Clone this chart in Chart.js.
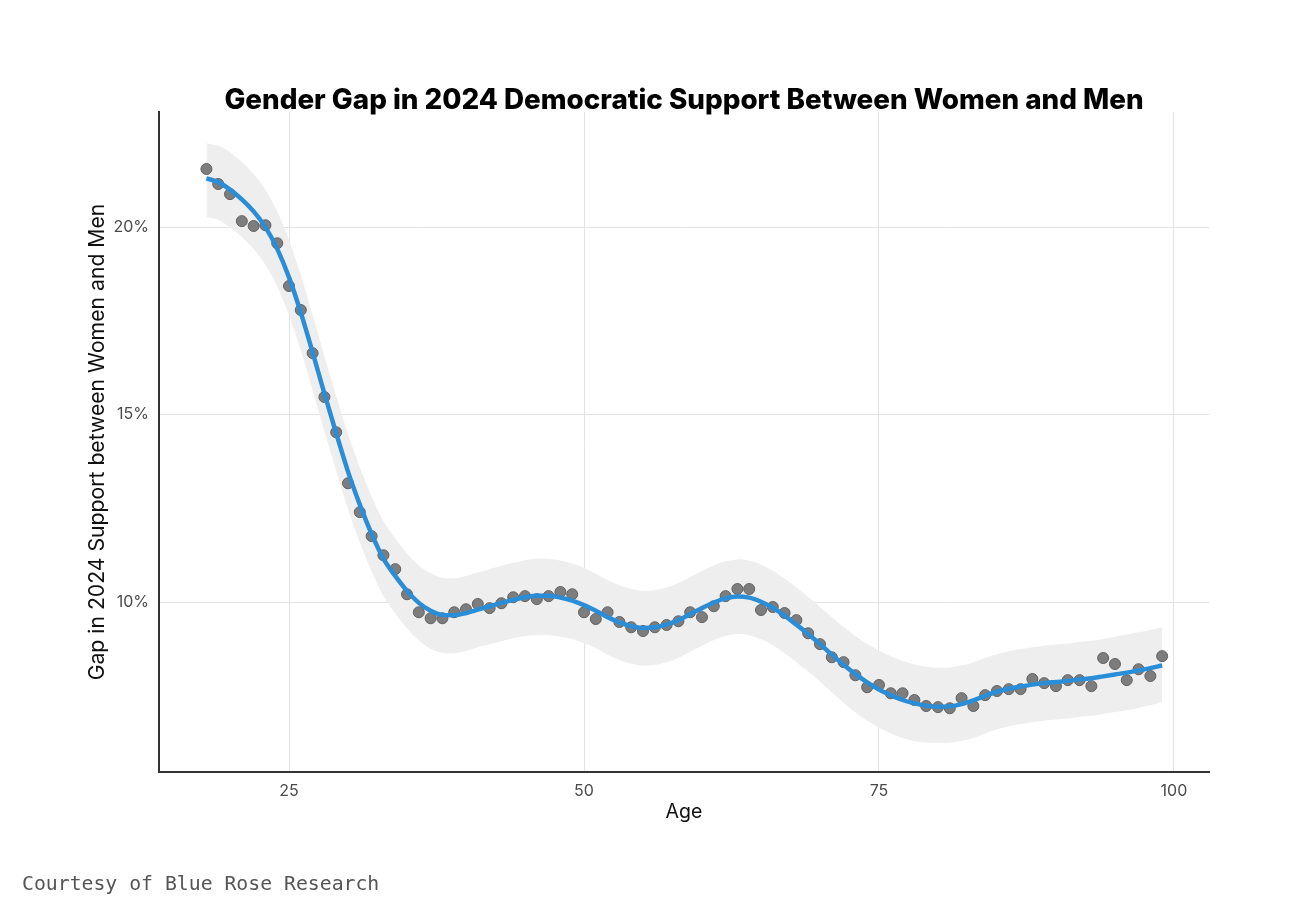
<!DOCTYPE html>
<html>
<head>
<meta charset="utf-8">
<script src="https://cdn.jsdelivr.net/npm/chart.js@4.4.1/dist/chart.umd.min.js"></script>
<style>
  html, body { margin: 0; padding: 0; background: #fff; }
  #wrap { position: relative; width: 1300px; height: 924px; }
  #nota {
    position: absolute; left: 22px; top: 872px;
    font-family: "DejaVu Sans Mono", "Liberation Mono", monospace;
    font-size: 19.8px; color: #555; white-space: nowrap;
  }
</style>
</head>
<body>
<div id="wrap">
  <canvas id="grafico" width="1300" height="924"></canvas>
  <div id="nota">Courtesy of Blue Rose Research</div>
</div>
<script>
// edades 18..99
const edades = [18, 19, 20, 21, 22, 23, 24, 25, 26, 27, 28, 29, 30, 31, 32, 33, 34, 35, 36, 37,
  38, 39, 40, 41, 42, 43, 44, 45, 46, 47, 48, 49, 50, 51, 52, 53, 54, 55, 56, 57,
  58, 59, 60, 61, 62, 63, 64, 65, 66, 67, 68, 69, 70, 71, 72, 73, 74, 75, 76, 77,
  78, 79, 80, 81, 82, 83, 84, 85, 86, 87, 88, 89, 90, 91, 92, 93, 94, 95, 96, 97,
  98, 99];

// brecha observada (%)
const brecha = [21.55, 21.15, 20.88, 20.16, 20.03, 20.05, 19.57, 18.43, 17.79, 16.64,
  15.47, 14.53, 13.17, 12.40, 11.76, 11.25, 10.88, 10.21, 9.73, 9.57,
  9.57, 9.73, 9.81, 9.95, 9.84, 9.97, 10.13, 10.16, 10.08, 10.16,
  10.27, 10.21, 9.73, 9.55, 9.73, 9.47, 9.33, 9.23, 9.33, 9.39,
  9.49, 9.73, 9.60, 9.89, 10.16, 10.35, 10.35, 9.79, 9.87, 9.71,
  9.52, 9.17, 8.88, 8.53, 8.40, 8.05, 7.73, 7.79, 7.57, 7.57,
  7.39, 7.23, 7.20, 7.17, 7.44, 7.23, 7.52, 7.63, 7.68, 7.68,
  7.95, 7.84, 7.76, 7.92, 7.92, 7.76, 8.51, 8.35, 7.92, 8.21,
  8.03, 8.56];

// curva suavizada
const ajuste = [21.30, 21.20, 21.00, 20.74, 20.42, 20.00, 19.42, 18.66, 17.72, 16.66,
  15.56, 14.50, 13.48, 12.60, 11.82, 11.16, 10.70, 10.30, 9.98, 9.77,
  9.66, 9.65, 9.71, 9.80, 9.89, 9.98, 10.06, 10.13, 10.17, 10.17,
  10.12, 10.04, 9.92, 9.77, 9.60, 9.46, 9.36, 9.31, 9.33, 9.40,
  9.52, 9.68, 9.84, 9.99, 10.10, 10.15, 10.12, 10.01, 9.85, 9.64,
  9.40, 9.15, 8.88, 8.60, 8.33, 8.08, 7.86, 7.67, 7.52, 7.39,
  7.30, 7.24, 7.21, 7.22, 7.28, 7.38, 7.50, 7.61, 7.69, 7.75,
  7.80, 7.84, 7.87, 7.90, 7.94, 7.97, 8.02, 8.07, 8.12, 8.18,
  8.24, 8.31];

// banda de confianza
const bandaAlta = [22.24, 22.17, 22.00, 21.74, 21.42, 21.00, 20.42, 19.66, 18.72, 17.66,
  16.56, 15.50, 14.48, 13.60, 12.82, 12.16, 11.70, 11.30, 10.98, 10.77,
  10.65, 10.64, 10.70, 10.79, 10.88, 10.97, 11.05, 11.12, 11.16, 11.16,
  11.11, 11.03, 10.91, 10.76, 10.59, 10.45, 10.35, 10.30, 10.32, 10.39,
  10.51, 10.67, 10.83, 10.98, 11.09, 11.14, 11.11, 11.00, 10.84, 10.63,
  10.39, 10.14, 9.87, 9.60, 9.34, 9.10, 8.89, 8.71, 8.56, 8.43,
  8.34, 8.28, 8.25, 8.26, 8.31, 8.40, 8.51, 8.61, 8.69, 8.75,
  8.80, 8.84, 8.87, 8.90, 8.94, 8.97, 9.02, 9.08, 9.14, 9.20,
  9.26, 9.33];

const bandaBaja = [20.27, 20.20, 20.00, 19.74, 19.42, 19.00, 18.42, 17.66, 16.72, 15.66,
  14.56, 13.50, 12.48, 11.60, 10.82, 10.16, 9.70, 9.30, 8.98, 8.76,
  8.65, 8.64, 8.70, 8.80, 8.88, 8.96, 9.04, 9.10, 9.12, 9.12,
  9.08, 9.02, 8.91, 8.77, 8.60, 8.46, 8.36, 8.31, 8.33, 8.40,
  8.52, 8.68, 8.84, 8.99, 9.10, 9.15, 9.12, 9.01, 8.85, 8.64,
  8.40, 8.15, 7.88, 7.60, 7.32, 7.06, 6.84, 6.66, 6.50, 6.38,
  6.30, 6.26, 6.25, 6.25, 6.30, 6.38, 6.50, 6.61, 6.69, 6.75,
  6.80, 6.84, 6.87, 6.90, 6.94, 6.97, 7.02, 7.07, 7.12, 7.18,
  7.25, 7.34];

const ticksX = [25, 50, 75, 100];
const ticksY = [10, 15, 20];

const pares = (ys) => edades.map((x, i) => ({ x: x, y: ys[i] }));

// titulo centrado sobre el area del grafico
const tituloPlugin = {
  id: 'tituloCentrado',
  afterDraw(chart) {
    const ctx = chart.ctx;
    const area = chart.chartArea;
    ctx.save();
    ctx.font = '800 27.8px Inter';
    ctx.fillStyle = '#000';
    ctx.textAlign = 'center';
    ctx.textBaseline = 'alphabetic';
    ctx.fillText('Gender Gap in 2024 Democratic Support Between Women and Men', (area.left + area.right) / 2, 109);
    ctx.restore();
  }
};

const canvas = document.getElementById('grafico');

new Chart(canvas, {
  type: 'scatter',
  data: {
    datasets: [
      {
        label: 'alta',
        type: 'line',
        data: pares(bandaAlta),
        borderWidth: 0,
        pointRadius: 0,
        backgroundColor: '#eeeeee',
        fill: '+1',
        tension: 0.3,
        order: 3
      },
      {
        label: 'baja',
        type: 'line',
        data: pares(bandaBaja),
        borderWidth: 0,
        pointRadius: 0,
        fill: false,
        tension: 0.3,
        order: 3
      },
      {
        label: 'puntos',
        data: pares(brecha),
        pointRadius: 5.5,
        pointBackgroundColor: '#7d7d7d',
        pointBorderColor: '#626262',
        pointBorderWidth: 1,
        order: 2
      },
      {
        label: 'ajuste',
        type: 'line',
        data: pares(ajuste),
        borderColor: '#2a8dd8',
        borderWidth: 4.5,
        pointRadius: 0,
        fill: false,
        cubicInterpolationMode: 'monotone',
        order: 1
      }
    ]
  },
  options: {
    responsive: false,
    animation: false,
    layout: {
      padding: { left: 70, right: 91, top: 112, bottom: 92 }
    },
    scales: {
      x: {
        type: 'linear',
        min: 13.98,
        max: 102.97,
        afterBuildTicks: (eje) => { eje.ticks = ticksX.map(v => ({ value: v })); },
        afterFit: (eje) => { eje.height = 60; },
        grid: { color: '#e3e3e3', lineWidth: 1, drawTicks: false },
        border: { display: true, color: '#333', width: 2 },
        ticks: {
          padding: 10,
          color: '#4a4a4a',
          font: { family: 'Inter', size: 16 },
          maxRotation: 0
        },
        title: {
          display: true,
          text: 'Age',
          color: '#111',
          font: { family: 'Inter', size: 19.5 },
          padding: { top: 0, bottom: 8 }
        }
      },
      y: {
        min: 5.47,
        max: 23.07,
        afterBuildTicks: (eje) => { eje.ticks = ticksY.map(v => ({ value: v })); },
        afterFit: (eje) => { eje.width = 89; },
        grid: { color: '#e3e3e3', lineWidth: 1, drawTicks: false },
        border: { display: true, color: '#333', width: 2 },
        ticks: {
          padding: 10,
          color: '#4a4a4a',
          font: { family: 'Inter', size: 16 },
          callback: (v) => v + '%'
        },
        title: {
          display: true,
          text: 'Gap in 2024 Support between Women and Men',
          color: '#111',
          font: { family: 'Inter', size: 21.2 },
          padding: { top: 15, bottom: 0 }
        }
      }
    },
    plugins: {
      legend: { display: false },
      tooltip: { enabled: false }
    }
  },
  plugins: [tituloPlugin]
});
</script>
</body>
</html>
